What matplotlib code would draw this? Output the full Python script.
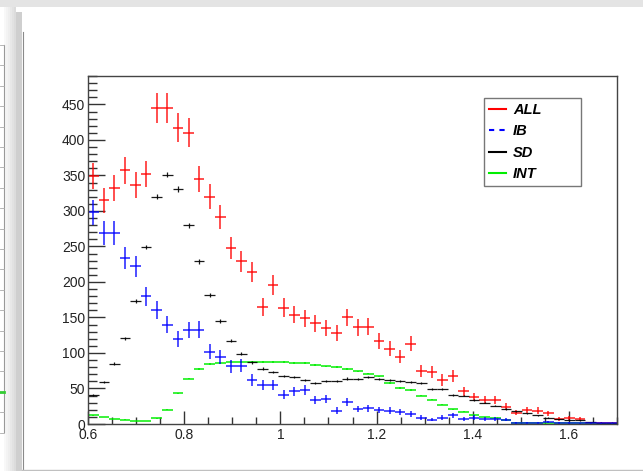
import numpy as np
import matplotlib
matplotlib.use("Agg")
import matplotlib.pyplot as plt
from matplotlib.lines import Line2D
from matplotlib.patches import Rectangle
from matplotlib.ticker import MultipleLocator

plt.rcParams["font.family"] = ["Liberation Sans", "DejaVu Sans"]

# 50 bins between 0.6 and 1.7
x_min, x_max, n_bins = 0.6, 1.7, 50

all_counts = [349, 315, 332, 357, 336, 352, 445, 445, 417, 410,
              345, 320, 291, 248, 229, 214, 165, 196, 164, 154,
              149, 142, 135, 128, 150, 136, 137, 117, 106, 95,
              113, 75, 73, 62, 68, 46, 38, 34, 34, 24,
              16, 20, 19, 15, 7, 8, 7, 2, 2, 1]
ib_counts = [298, 269, 269, 234, 222, 180, 161, 140, 120, 132,
             133, 102, 94, 81, 82, 62, 55, 55, 41, 46,
             48, 34, 35, 19, 31, 21, 22, 20, 19, 17,
             14, 9, 6, 9, 12, 7, 9, 7, 7, 6,
             2, 2, 2, 3, 2, 2, 1, 1, 1, 1]
sd_counts = [41, 59, 85, 121, 173, 249, 320, 351, 331, 280,
             229, 182, 145, 117, 99, 87, 78, 73, 68, 66,
             62, 58, 61, 60, 64, 63, 66, 63, 62, 61,
             59, 58, 49, 49, 41, 40, 34, 30, 26, 21,
             18, 15, 12, 9, 7, 6, 5, 3, 2, 2]
int_counts = [12, 10, 7, 6, 4, 4, 8, 20, 43, 64,
              77, 84, 86, 87, 88, 88, 88, 88, 87, 86,
              86, 83, 81, 80, 77, 74, 71, 67, 58, 51,
              48, 40, 34, 27, 21, 17, 12, 10, 8, 6,
              2, 2, 1, 1, 1, 1, 1, 0.5, 0.5, 0.5]

labels = ["ALL", "IB", "SD", "INT"]

W, H = 643, 471


def fx(px):
    return px / W


def fy(py):
    return 1 - py / H


fig = plt.figure(figsize=(W / 100, H / 100), dpi=100)

# window decorations of the screenshot
fig.add_artist(Rectangle((0, fy(7)), 1, 7 / H, transform=fig.transFigure,
                         color="#e4e4e4", lw=0))
for i, c in enumerate(["#dcdcdc", "#e2e2e2", "#e8e8e8", "#eeeeee", "#f3f3f3", "#f8f8f8"]):
    fig.add_artist(Rectangle((fx(16 - 2 * (i + 1)), 0), 2 / W, fy(7), transform=fig.transFigure,
                             color=c, lw=0))
fig.add_artist(Rectangle((fx(16), 0), 6 / W, fy(12), transform=fig.transFigure,
                         color="#cfcfcf", lw=0))
fig.add_artist(Line2D([fx(22.5), fx(22.5)], [0, fy(32)], transform=fig.transFigure,
                      color="#8a8a8a", lw=0.8))
fig.add_artist(Line2D([fx(22), 1], [fy(470), fy(470)], transform=fig.transFigure,
                      color="#c0c0c0", lw=1.0))
fig.add_artist(Line2D([fx(4), fx(4)], [fy(45), fy(432)], transform=fig.transFigure,
                      color="#999999", lw=0.8))
for yy in np.arange(45, 433, 20.4):
    fig.add_artist(Line2D([0, fx(4)], [fy(yy), fy(yy)], transform=fig.transFigure,
                          color="#aaaaaa", lw=0.6))
fig.add_artist(Line2D([0, fx(4)], [fy(392), fy(392)], transform=fig.transFigure,
                      color="#33cc33", lw=2))

ax = fig.add_axes([fx(88), fy(424), 529 / W, 348 / H])

edges = np.linspace(x_min, x_max, n_bins + 1)
centers = 0.5 * (edges[:-1] + edges[1:])
half_w = 0.5 * (edges[1] - edges[0])

series = [
    (all_counts, "#ff0000", 1.3, 0.75, 1.0),
    (int_counts, "#00ee00", 1.2, 0.9, 0.15),
    (sd_counts, "#000000", 0.9, 0.9, 0.2),
    (ib_counts, "#0000ff", 1.3, 0.75, 1.0),
]
for counts, color, lw, alpha, err_scale in series:
    vals = np.array(counts, dtype=float)
    ax.errorbar(centers, vals, xerr=half_w, yerr=err_scale * np.sqrt(vals),
                fmt="none", ecolor=color, elinewidth=lw, capsize=0, alpha=alpha)

ax.set_xlim(x_min, x_max)
ax.set_ylim(0, 490)

ax.xaxis.set_major_locator(MultipleLocator(0.2))
ax.xaxis.set_minor_locator(MultipleLocator(0.05))
ax.yaxis.set_major_locator(MultipleLocator(50))
ax.yaxis.set_minor_locator(MultipleLocator(10))
ax.xaxis.set_major_formatter(plt.FuncFormatter(lambda v, p: f"{v:g}"))

ax.tick_params(axis="x", which="major", direction="in", length=9.5, width=1.0,
               color="#333333", pad=3, labelsize=10, labelcolor="#222222")
ax.tick_params(axis="x", which="minor", direction="in", length=5, width=1.0, color="#333333")
ax.tick_params(axis="y", which="major", direction="in", length=12, width=1.0,
               color="#333333", pad=2, labelsize=10, labelcolor="#222222")
ax.tick_params(axis="y", which="minor", direction="in", length=6.5, width=1.0, color="#333333")
for s in ax.spines.values():
    s.set_color("#444444")
    s.set_linewidth(1.0)

handles = [
    Line2D([], [], color="#ff0000", lw=1.5),
    Line2D([], [], color="#0000ff", lw=1.5, ls=(0, (2.5, 2.5))),
    Line2D([], [], color="#000000", lw=1.5),
    Line2D([], [], color="#00ee00", lw=1.5),
]
x0 = (484 - 88) / 529
x1 = (581 - 88) / 529
ytop = (424 - 98) / 348
leg = ax.legend(handles, labels, loc="upper left", bbox_to_anchor=(x0, ytop, x1 - x0, 0.0),
                mode="expand", fancybox=False, shadow=False, framealpha=1,
                edgecolor="#777777", borderaxespad=0, borderpad=0.35,
                handlelength=1.15, handletextpad=0.5, labelspacing=0.5,
                prop={"weight": "bold", "style": "italic", "size": 10.5})
leg.get_frame().set_linewidth(1.0)

fig.savefig("out.png", dpi=100)
